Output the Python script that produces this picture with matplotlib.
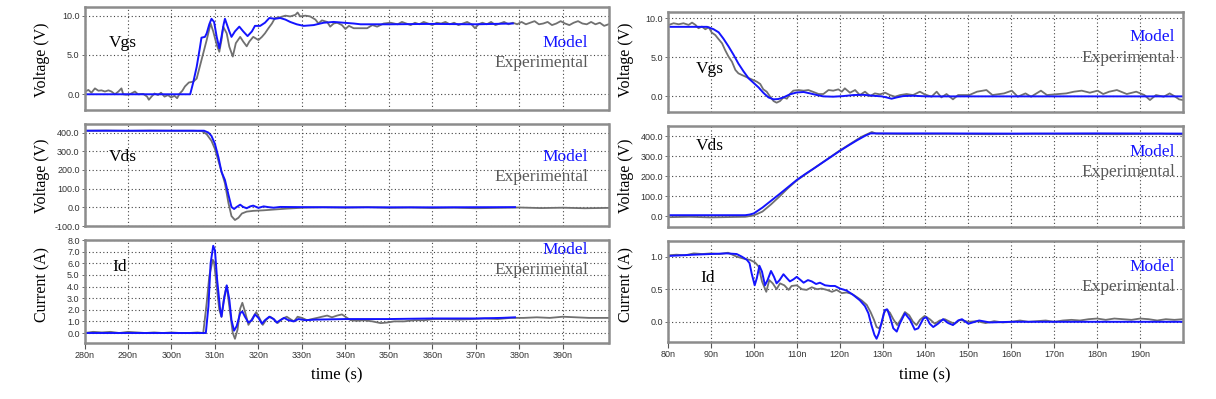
import matplotlib
matplotlib.use("Agg")
import matplotlib.pyplot as plt

# ---------------- data (time in ns) ----------------
# left column: turn-on
on_vgs_model_t = [280, 304.3, 305.0, 305.8, 306.5, 306.9, 307.7, 308.1, 308.7, 309.2,
                  309.8, 310.4, 311.0, 311.5, 312.0, 312.3, 312.8, 313.3, 313.8, 314.6,
                  315.6, 316.5, 317.5, 318.5, 319.2, 320.4, 321.5, 322.5, 323.8, 325.0,
                  326.2, 327.3, 328.8, 330.4, 332.7, 335.0, 337.3, 339.6, 341.9, 343.5,
                  350, 360, 370, 378.5]
on_vgs_model = [0, 0, 1.5, 3.5, 5.8, 7.2, 7.3, 7.75, 8.9, 9.6,
                9.2, 7.3, 5.85, 7.3, 8.9, 9.6, 8.8, 8.0, 7.3, 8.0,
                8.6, 8.0, 7.4, 8.0, 8.7, 8.7, 9.1, 9.7, 9.6, 9.7,
                9.5, 9.2, 8.9, 8.7, 8.8, 9.1, 9.2, 9.1, 9.0, 8.9,
                8.9, 8.95, 8.9, 9.0]
on_vgs_exp_t = [280.1, 280.9, 281.6, 282.4, 283.2, 283.9, 284.7, 285.5, 286.2, 287.0,
                287.8, 288.5, 288.9, 289.6, 290.4, 291.6, 292.3, 293.5, 294.4, 294.8,
                295.4, 296.1, 296.9, 297.6, 298.4, 299.2, 299.9, 300.7, 301.3, 301.9,
                302.5, 303.1, 304.0, 305.0, 305.8, 306.5, 307.3, 308.1, 309.0, 309.6,
                310.4, 311.0, 311.5, 311.9, 312.7, 313.3, 314.1, 314.8, 315.8, 316.5,
                317.3, 317.9, 318.8, 320.0, 320.8, 321.5, 322.3, 323.1, 323.8, 325.0,
                326.2, 327.3, 328.5, 329.0, 329.6, 330.8, 331.9, 333.1, 333.8, 334.6,
                335.8, 336.5, 337.3, 338.1, 339.2, 340.0, 340.8, 341.9, 343.5, 345.0,
                346.2, 347.3, 348.8, 350.4,
                352, 353, 354, 355, 356, 357, 358, 359, 360, 361,
                362, 363, 364, 365, 366, 367, 368, 369, 369.8, 370.6,
                371.5, 372.5, 373.5, 374.5, 375.5, 376.5, 377.5, 378.5, 379.5, 380.5,
                381.5, 382.5, 383.5, 384.5, 385.5, 386.5, 387.5, 388.5, 389.5, 390.5,
                391.5, 392.5, 393.5, 394.5, 395.5, 396.5, 397.5, 398.5, 399.5, 400.5]
on_vgs_exp = [0.35, 0.55, 0.2, 0.75, 0.45, 0.5, 0.35, 0.5, 0.35, 0.0,
              0.35, 0.75, 0.0, -0.05, 0.0, 0.35, 0.0, 0.05, -0.3, -0.7,
              -0.3, 0.1, -0.1, 0.2, -0.3, -0.1, -0.4, -0.2, -0.5, 0.1,
              0.45, 1.0, 1.5, 1.6, 2.0, 3.5, 5.2, 6.9, 9.0, 8.0,
              6.3, 5.4, 6.9, 8.6, 7.75, 6.05, 4.8, 6.5, 7.3, 6.7,
              6.1, 6.7, 7.3, 6.9, 7.3, 7.75, 8.4, 9.0, 9.7, 9.8,
              10.0, 9.9, 10.1, 10.4, 9.9, 10.0, 9.9, 9.5, 9.0, 9.4,
              9.2, 8.6, 9.0, 9.1, 8.8, 8.3, 8.7, 8.4, 8.4, 8.4,
              8.8, 8.6, 9.0, 9.1,
              8.9, 9.2, 9.0, 8.8, 9.1, 8.9, 9.2, 9.0, 8.8, 9.1,
              9.0, 9.2, 8.9, 9.1, 8.8, 9.0, 9.2, 8.9, 8.4, 8.9,
              9.1, 8.9, 9.2, 8.8, 9.0, 9.2, 8.9, 9.1, 8.9, 9.2,
              8.9, 9.1, 9.3, 8.9, 9.0, 9.2, 8.8, 9.0, 9.3, 9.0,
              8.8, 9.1, 9.3, 9.0, 8.9, 9.2, 8.9, 9.1, 8.7, 8.9]

on_vds_model_t = [280, 307.5, 308.5, 309.2, 310.0, 310.8, 311.5, 312.3, 313.1, 313.8,
                  314.4, 315.0, 315.8, 316.5, 317.3, 318.1, 318.8, 320.0, 321.2, 322.3,
                  323.5, 325, 330, 340, 360, 379]
on_vds_model = [410, 410, 400, 382, 339, 268, 190, 146, 67, 2,
                -9, 2, 14, 2, -5, 5, 9, -3, 5, 1,
                -2, 2, 1, 0, 0, 1]
on_vds_exp_t = [280, 285, 290, 295, 300, 305, 307.0, 308.1, 309.2, 310.0,
                311.2, 312.3, 313.1, 313.8, 314.6, 315.4, 316.2, 317.3, 318.8, 321.2,
                323.5, 326.5, 330.4, 335, 340, 345, 350, 355, 360, 365,
                370, 375, 380, 385, 390, 395, 400.5]
on_vds_exp = [410, 411, 409, 411, 410, 410, 408, 391, 356, 312,
              216, 128, 23, -47, -68, -56, -33, -23, -19, -16,
              -12, -7, -2, 0, -2, 1, -3, -1, -4, -2,
              -5, -3, -1, -4, -2, -5, -3]

on_id_model_t = [280, 307.9, 308.5, 309.0, 309.6, 310.0, 310.5, 311.2, 311.5, 312.1,
                 312.7, 313.3, 313.8, 314.4, 315.0, 315.8, 316.3, 316.9, 317.7, 318.5,
                 319.2, 320.0, 320.8, 321.5, 322.5, 323.5, 324.2, 325.0, 325.9, 326.9,
                 328.1, 329.2, 330.8, 333, 340, 350, 360, 370, 376, 379]
on_id_model = [0, 0, 2.3, 6.0, 7.5, 7.1, 4.6, 2.0, 1.4, 2.9,
               4.1, 2.9, 1.1, 0.2, 0.6, 1.7, 1.85, 1.4, 0.9, 1.1,
               1.6, 1.3, 0.8, 1.1, 1.4, 1.2, 0.9, 1.1, 1.3, 1.1,
               1.0, 1.2, 1.1, 1.15, 1.2, 1.2, 1.25, 1.25, 1.3, 1.35]
on_id_exp_t = [280, 282, 284, 286, 288, 290, 292, 294, 296, 298,
               300, 302, 304, 306, 307.3, 308.1, 308.7, 309.5, 309.8, 310.4,
               311.0, 311.5, 312.1, 312.7, 313.3, 314.1, 314.6, 315.2, 315.8, 316.3,
               316.9, 317.7, 318.5, 319.5, 320.2, 321.0, 321.9, 322.7, 323.5, 324.4,
               325.4, 326.5, 327.3, 328.2, 329.0, 330.0, 331.2, 332.3, 333.5, 334.6,
               335.8, 336.9, 338.1, 339.2, 340.0, 341.2, 342.7, 344.2, 346.2, 348.1,
               349.6, 351.2, 353.5, 355.8, 358.1, 360.4, 363.5, 366, 369, 372,
               375, 378, 381, 384, 387, 390, 393, 396, 400.5]
on_id_exp = [0, 0.1, 0.05, 0.1, 0.0, 0.1, 0.05, 0.0, 0.05, 0.0,
             0.05, 0.0, 0.0, 0.05, 0.0, 2.6, 4.9, 6.3, 6.1, 4.0,
             2.0, 1.4, 3.1, 4.05, 2.3, 0.0, -0.5, 0.3, 2.1, 2.6,
             1.85, 0.7, 1.2, 1.8, 1.3, 0.7, 1.2, 1.4, 1.2, 0.85,
             1.2, 1.4, 1.2, 1.0, 1.4, 1.3, 1.1, 1.2, 1.3, 1.4,
             1.5, 1.35, 1.5, 1.6, 1.4, 1.1, 1.05, 1.1, 1.0, 0.85,
             0.9, 1.0, 1.0, 1.1, 1.1, 1.2, 1.2, 1.15, 1.2, 1.25,
             1.2, 1.3, 1.3, 1.35, 1.3, 1.4, 1.35, 1.3, 1.3]

# right column: turn-off
off_vgs_model_t = [80, 89.1, 90.6, 91.8, 92.9, 94.1, 95.3, 96.4, 97.6, 98.8,
                   99.9, 101.1, 102.2, 103.4, 104.6, 105.7, 106.9, 108.4, 110.0, 111.6,
                   113.1, 114.7, 116.2, 118.5, 120.9, 123.2, 125.5, 127.8, 129.8, 130.9,
                   132.1, 133.3, 134.8, 137.1, 140.2, 160, 200]
off_vgs_model = [8.9, 8.9, 8.6, 8.2, 7.4, 6.4, 5.3, 4.2, 3.2, 2.3,
                 1.75, 1.15, 0.47, -0.13, -0.38, -0.34, -0.13, 0.26, 0.5, 0.56,
                 0.38, 0.17, 0.0, -0.04, 0.04, 0.17, 0.2, 0.08, 0.0, -0.13,
                 -0.3, -0.13, 0.04, 0.08, 0.0, 0.0, 0.0]
off_vgs_exp_t = [80.2, 81.3, 82.5, 83.6, 84.8, 85.6, 86.4, 87.1, 87.9, 88.7,
                 89.5, 90.2, 91.0, 91.8, 92.6, 93.3, 94.1, 94.9, 95.7, 96.4,
                 97.2, 98.4, 99.5, 100.7, 101.5, 102.2, 103.0, 103.8, 104.6, 105.3,
                 106.1, 106.9, 107.7, 108.4, 109.2, 110.4, 111.6, 112.7, 113.9, 115.1,
                 116.2, 117.4, 118.5, 119.7, 120.5, 121.2, 122.4, 123.6, 124.7, 125.9,
                 127.1, 128.2, 129.4, 130.6, 131.7, 132.9, 134.1, 135.6, 137.1, 138.7,
                 139.8, 141.4, 142.6, 143.7, 144.9, 146.4, 147.6,
                 150.2, 152.0, 154.2, 155.6, 158.3, 160.1, 161.5, 163.3, 164.6, 166.9,
                 168.3, 170.1, 172.8, 174.6, 176.4, 178.3, 180.1, 181.4, 182.8, 184.6,
                 186.9, 189.1, 191.0, 192.3, 193.7, 195.5, 196.9, 198.2, 199.1, 200]
off_vgs_exp = [9.15, 9.36, 9.23, 9.36, 9.15, 9.44, 9.15, 8.72, 8.93, 8.59,
               8.85, 8.16, 7.86, 7.31, 6.79, 5.94, 5.09, 4.44, 3.38, 2.95,
               2.74, 2.44, 2.18, 1.88, 1.58, 0.9, 0.6, -0.04, -0.6, -0.81,
               -0.6, -0.13, -0.3, 0.3, 0.73, 0.81, 0.73, 0.81, 0.56, 0.3,
               0.3, 0.81, 0.73, 0.9, 0.6, 1.03, 0.47, 0.81, 0.17, 0.6,
               0.04, 0.38, 0.26, 0.47, 0.17, -0.04, 0.17, 0.3, 0.17, 0.6,
               0.26, -0.04, 0.6, -0.13, 0.3, -0.38, 0.17,
               0.17, 0.6, 0.81, 0.17, 0.38, 0.73, -0.04, 0.38, -0.04, 0.73,
               0.17, 0.26, 0.38, 0.6, 0.73, 0.47, 0.73, 0.3, 0.6, 0.81,
               0.3, 0.6, 0.17, -0.47, 0.17, -0.04, 0.38, -0.04, -0.38, -0.47]

off_vds_model_t = [80, 98.0, 99.0, 100.0, 102.0, 104.0, 106.0, 108.0, 110.0, 112.0,
                   114.0, 116.0, 118.0, 120.0, 122.0, 124.0, 126.0, 127.2, 140, 160,
                   180, 200]
off_vds_model = [4, 4, 7, 13, 42, 76, 110, 145, 180, 210,
                 238, 267, 296, 325, 352, 378, 402, 413, 413, 412,
                 413, 412]
off_vds_exp_t = [80, 85, 90, 95, 98, 100, 102, 104, 106, 108,
                 110, 115, 120, 125, 127.5, 128.5, 135, 145, 155, 165,
                 175, 185, 195, 200]
off_vds_exp = [-6, -4, -7, -5, -4, 3, 22, 58, 98, 140,
               178, 253, 327, 395, 420, 412, 410, 411, 409, 411,
               410, 409, 411, 408]

off_id_model_t = [80, 86.0, 89.8, 93.7, 96.0, 97.2, 98.4, 99.0, 99.5, 100.2,
                  100.7, 101.3, 101.9, 102.6, 103.2, 104.0, 104.7, 105.3, 106.0, 106.9,
                  107.7, 108.4, 109.2, 110.0, 110.9, 111.6, 112.6, 113.5, 114.5, 115.4,
                  116.6, 117.8, 118.9, 120.1, 121.6, 123.2, 124.7, 125.9, 126.7, 127.4,
                  128.1, 128.6, 129.1, 129.8, 130.5, 131.1, 131.7, 132.5, 133.3, 134.0,
                  135.2, 136.4, 137.5, 138.3, 139.5, 140.2, 141.0, 141.8, 142.9, 144.1,
                  145.3, 146.4, 147.6, 148.5, 150.0, 152.5, 155, 160, 200]
off_id_model = [1.01, 1.03, 1.04, 1.05, 1.04, 1.0, 0.95, 0.9, 0.74, 0.56,
                0.67, 0.86, 0.77, 0.56, 0.64, 0.78, 0.69, 0.59, 0.64, 0.73,
                0.67, 0.62, 0.65, 0.69, 0.64, 0.6, 0.64, 0.62, 0.58, 0.6,
                0.56, 0.55, 0.55, 0.51, 0.48, 0.41, 0.33, 0.24, 0.13, -0.05,
                -0.2, -0.26, -0.18, 0.0, 0.18, 0.19, 0.08, -0.1, -0.15, -0.03,
                0.13, 0.03, -0.12, -0.1, 0.05, 0.07, -0.03, -0.08, -0.03, 0.04,
                -0.02, -0.05, 0.02, 0.04, -0.03, 0.02, -0.01, 0.0, 0.0]
off_id_exp_t = [80, 82, 84, 86, 88, 90, 92, 94, 96.0, 97.6,
                99.1, 100.3, 101.1, 101.9, 102.9, 103.6, 104.4, 105.3, 106.1, 107.1,
                108.1, 108.8, 110.0, 111.2, 112.3, 113.5, 114.7, 115.8, 117.0, 118.2,
                119.3, 120.5, 121.6, 122.8, 124.0, 125.1, 126.3, 127.2, 128.0, 128.6,
                129.2, 129.8, 130.3, 130.9, 131.7, 132.5, 133.4, 134.2, 135.2, 136.2,
                137.1, 137.9, 138.7, 139.8, 141.0, 142.2, 143.3, 144.5, 145.7, 146.8,
                148.0, 150, 152, 154, 156, 158, 160, 162, 164, 166,
                168, 170, 172, 174, 176, 178, 180, 182, 184, 186,
                188, 190, 192, 194, 196, 198, 200]
off_id_exp = [1.02, 1.03, 1.02, 1.05, 1.04, 1.05, 1.04, 1.06, 1.0, 0.97,
              0.95, 0.91, 0.85, 0.62, 0.46, 0.64, 0.59, 0.5, 0.59, 0.56,
              0.49, 0.55, 0.56, 0.5, 0.49, 0.53, 0.5, 0.51, 0.49, 0.46,
              0.49, 0.44, 0.45, 0.43, 0.38, 0.33, 0.26, 0.15, 0.03, -0.08,
              -0.1, -0.03, 0.13, 0.19, 0.14, 0.04, -0.05, 0.03, 0.15, 0.1,
              0.0, -0.05, 0.03, 0.09, 0.04, -0.03, 0.02, 0.04, 0.0, -0.03,
              0.03, 0.0, 0.01, -0.02, 0.01, -0.01, 0.0, 0.02, 0.0, 0.01,
              0.02, 0.0, 0.02, 0.03, 0.02, 0.04, 0.05, 0.03, 0.05, 0.04,
              0.03, 0.05, 0.04, 0.02, 0.04, 0.03, 0.04]

on_xticks = list(range(280, 400, 10))
off_xticks = list(range(80, 200, 10))
vgs_yticks = [0, 5, 10]
on_vds_yticks = [-100, 0, 100, 200, 300, 400]
off_vds_yticks = [0, 100, 200, 300, 400]
on_id_yticks = [0, 1, 2, 3, 4, 5, 6, 7, 8]
off_id_yticks = [0, 0.5, 1.0]

# ---------------- drawing ----------------
W, H = 1216, 399
BLUE = '#1414ff'
GREY = '#707070'
SERIF = 'Liberation Serif'

fig = plt.figure(figsize=(W / 100, H / 100), dpi=100)


def add_axes_px(left, top, right, bottom):
    return fig.add_axes([left / W, 1 - bottom / H, (right - left) / W, (bottom - top) / H])


def text_px(x, y, s, **kw):
    fig.text(x / W, 1 - y / H, s, **kw)


def panel(box, t_exp, v_exp, t_mod, v_mod, xlim, ylim, xticks, yticks, bottom_row):
    ax = add_axes_px(*box)
    ax.plot(t_exp, v_exp, color=GREY, lw=1.3)
    ax.plot(t_mod, v_mod, color=BLUE, lw=1.4)
    ax.set_xlim(*xlim)
    ax.set_ylim(*ylim)
    ax.set_xticks(xticks)
    ax.set_yticks(yticks)
    ax.set_yticklabels([f'{v:.1f}' for v in yticks])
    if bottom_row:
        ax.set_xticklabels([f'{v}n' for v in xticks])
        ax.tick_params(axis='x', direction='out', length=4, width=0.8, pad=2)
    else:
        ax.tick_params(axis='x', length=0, labelbottom=False)
    ax.tick_params(axis='y', direction='out', length=2, width=0.6, pad=1.5)
    ax.tick_params(labelsize=6.5, labelcolor='#333333', color='#555555')
    for lab in ax.get_xticklabels() + ax.get_yticklabels():
        lab.set_family('Liberation Sans')
    ax.grid(True, color='#444444', lw=0.8, ls=(0, (1, 2.2)))
    for sp in ax.spines.values():
        sp.set_color('#8c8c8c')
        sp.set_linewidth(1.8)
    return ax


# left column
panel((84.5, 7, 608.5, 110), on_vgs_exp_t, on_vgs_exp, on_vgs_model_t, on_vgs_model,
      (280, 400.5), (-2.0, 11.1), on_xticks, vgs_yticks, False)
panel((84.5, 124, 608.5, 226), on_vds_exp_t, on_vds_exp, on_vds_model_t, on_vds_model,
      (280, 400.5), (-100, 446), on_xticks, on_vds_yticks, False)
panel((84.5, 240, 608.5, 343), on_id_exp_t, on_id_exp, on_id_model_t, on_id_model,
      (280, 400.5), (-0.86, 8.0), on_xticks, on_id_yticks, True)

# right column
panel((668, 12, 1183, 112), off_vgs_exp_t, off_vgs_exp, off_vgs_model_t, off_vgs_model,
      (80, 200), (-2.0, 10.8), off_xticks, vgs_yticks, False)
panel((668, 126, 1183, 227), off_vds_exp_t, off_vds_exp, off_vds_model_t, off_vds_model,
      (80, 200), (-55, 450), off_xticks, off_vds_yticks, False)
panel((668, 241, 1183, 342), off_id_exp_t, off_id_exp, off_id_model_t, off_id_model,
      (80, 200), (-0.31, 1.24), off_xticks, off_id_yticks, True)

# signal names
for x, y, s in [(123, 43, 'Vgs'), (123, 157, 'Vds'), (120, 267, 'Id'),
                (710, 69, 'Vgs'), (710, 146, 'Vds'), (708, 278, 'Id')]:
    text_px(x, y, s, family=SERIF, fontsize=12.5, ha='center', va='center', color='black')

# legends as text
for x, ym, ye in [(588, 43, 63), (588, 157, 177), (588, 250, 270),
                  (1175, 37, 58), (1175, 152, 172), (1175, 267, 287)]:
    text_px(x, ym, 'Model', family=SERIF, fontsize=12.5, ha='right', va='center', color=BLUE)
    text_px(x, ye, 'Experimental', family=SERIF, fontsize=12.5, ha='right', va='center',
            color='#5a5a5a')

# axis titles
for x in (42, 626):
    text_px(x, 60, 'Voltage (V)', family=SERIF, fontsize=11.5, rotation=90,
            ha='center', va='center')
    text_px(x, 176, 'Voltage (V)', family=SERIF, fontsize=11.5, rotation=90,
            ha='center', va='center')
    text_px(x, 284, 'Current (A)', family=SERIF, fontsize=11.5, rotation=90,
            ha='center', va='center')
text_px(337, 375, 'time (s)', family=SERIF, fontsize=12, ha='center', va='center')
text_px(925, 375, 'time (s)', family=SERIF, fontsize=12, ha='center', va='center')

fig.savefig('out.png', dpi=100)
